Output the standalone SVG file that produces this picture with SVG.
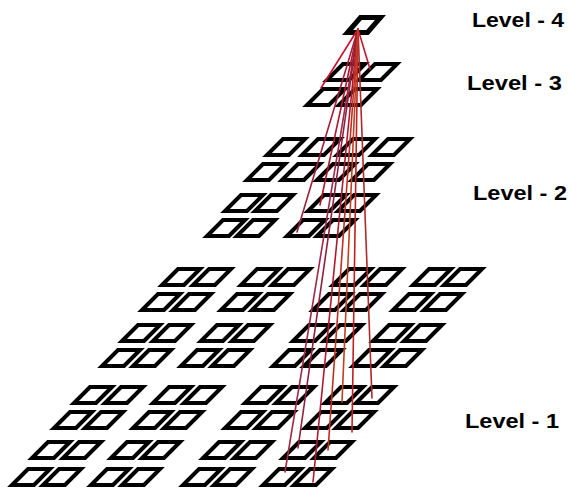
<svg xmlns="http://www.w3.org/2000/svg" xmlns:xlink="http://www.w3.org/1999/xlink" width="571" height="496" viewBox="0 0 571 496">
<style>
.cell{fill:none;stroke:#000;stroke-width:4;stroke-linejoin:miter}
.top{fill:none;stroke:#000;stroke-width:5;stroke-linejoin:miter}
.lbl{font-family:"Liberation Sans",Arial,sans-serif;font-weight:bold;font-size:21px;fill:#000}
.ln{fill:none;stroke-width:1.6;stroke-linecap:round}
</style>
<defs>
<path id="c1" class="cell" d="M0,0 h22 l16,-16 h-22 z"/>
</defs>
<rect width="571" height="496" fill="#fff"/>
<g id="level1">
<g id="n1_1_1"><use href="#c1" x="162" y="285"/></g><g id="n1_1_2"><use href="#c1" x="193" y="285"/></g><g id="n1_1_3"><use href="#c1" x="241" y="285"/></g><g id="n1_1_4"><use href="#c1" x="272" y="285"/></g><g id="n1_1_5"><use href="#c1" x="333" y="285"/></g><g id="n1_1_6"><use href="#c1" x="364" y="285"/></g><g id="n1_1_7"><use href="#c1" x="413" y="285"/></g><g id="n1_1_8"><use href="#c1" x="444" y="285"/></g>
<g id="n1_2_1"><use href="#c1" x="142" y="310"/></g><g id="n1_2_2"><use href="#c1" x="173" y="310"/></g><g id="n1_2_3"><use href="#c1" x="221" y="310"/></g><g id="n1_2_4"><use href="#c1" x="252" y="310"/></g><g id="n1_2_5"><use href="#c1" x="313" y="310"/></g><g id="n1_2_6"><use href="#c1" x="344" y="310"/></g><g id="n1_2_7"><use href="#c1" x="393" y="310"/></g><g id="n1_2_8"><use href="#c1" x="424" y="310"/></g>
<g id="n1_3_1"><use href="#c1" x="122" y="341"/></g><g id="n1_3_2"><use href="#c1" x="153" y="341"/></g><g id="n1_3_3"><use href="#c1" x="201" y="341"/></g><g id="n1_3_4"><use href="#c1" x="232" y="341"/></g><g id="n1_3_5"><use href="#c1" x="293" y="341"/></g><g id="n1_3_6"><use href="#c1" x="324" y="341"/></g><g id="n1_3_7"><use href="#c1" x="373" y="341"/></g><g id="n1_3_8"><use href="#c1" x="404" y="341"/></g>
<g id="n1_4_1"><use href="#c1" x="102" y="366"/></g><g id="n1_4_2"><use href="#c1" x="133" y="366"/></g><g id="n1_4_3"><use href="#c1" x="181" y="366"/></g><g id="n1_4_4"><use href="#c1" x="212" y="366"/></g><g id="n1_4_5"><use href="#c1" x="273" y="366"/></g><g id="n1_4_6"><use href="#c1" x="304" y="366"/></g><g id="n1_4_7"><use href="#c1" x="353" y="366"/></g><g id="n1_4_8"><use href="#c1" x="384" y="366"/></g>
<g id="n1_5_1"><use href="#c1" x="74" y="403"/></g><g id="n1_5_2"><use href="#c1" x="105" y="403"/></g><g id="n1_5_3"><use href="#c1" x="153" y="403"/></g><g id="n1_5_4"><use href="#c1" x="184" y="403"/></g><g id="n1_5_5"><use href="#c1" x="245" y="403"/></g><g id="n1_5_6"><use href="#c1" x="276" y="403"/></g><g id="n1_5_7"><use href="#c1" x="325" y="403"/></g><g id="n1_5_8"><use href="#c1" x="356" y="403"/></g>
<g id="n1_6_1"><use href="#c1" x="54" y="428"/></g><g id="n1_6_2"><use href="#c1" x="85" y="428"/></g><g id="n1_6_3"><use href="#c1" x="133" y="428"/></g><g id="n1_6_4"><use href="#c1" x="164" y="428"/></g><g id="n1_6_5"><use href="#c1" x="225" y="428"/></g><g id="n1_6_6"><use href="#c1" x="256" y="428"/></g><g id="n1_6_7"><use href="#c1" x="305" y="428"/></g><g id="n1_6_8"><use href="#c1" x="336" y="428"/></g>
<g id="n1_7_1"><use href="#c1" x="32" y="458"/></g><g id="n1_7_2"><use href="#c1" x="63" y="458"/></g><g id="n1_7_3"><use href="#c1" x="111" y="458"/></g><g id="n1_7_4"><use href="#c1" x="142" y="458"/></g><g id="n1_7_5"><use href="#c1" x="203" y="458"/></g><g id="n1_7_6"><use href="#c1" x="234" y="458"/></g><g id="n1_7_7"><use href="#c1" x="283" y="458"/></g><g id="n1_7_8"><use href="#c1" x="314" y="458"/></g>
<g id="n1_8_1"><use href="#c1" x="12" y="485"/></g><g id="n1_8_2"><use href="#c1" x="43" y="485"/></g><g id="n1_8_3"><use href="#c1" x="91" y="485"/></g><g id="n1_8_4"><use href="#c1" x="122" y="485"/></g><g id="n1_8_5"><use href="#c1" x="183" y="485"/></g><g id="n1_8_6"><use href="#c1" x="214" y="485"/></g><g id="n1_8_7"><use href="#c1" x="263" y="485"/></g><g id="n1_8_8"><use href="#c1" x="294" y="485"/></g>
</g>
<g id="level2">
<g id="n2_1_1"><use href="#c1" x="267" y="155"/></g><g id="n2_1_2"><use href="#c1" x="302" y="155"/></g><g id="n2_1_3"><use href="#c1" x="337" y="155"/></g><g id="n2_1_4"><use href="#c1" x="372" y="155"/></g>
<g id="n2_2_1"><use href="#c1" x="247" y="180"/></g><g id="n2_2_2"><use href="#c1" x="282" y="180"/></g><g id="n2_2_3"><use href="#c1" x="317" y="180"/></g><g id="n2_2_4"><use href="#c1" x="352" y="180"/></g>
<g id="n2_3_1"><use href="#c1" x="225" y="211"/></g><g id="n2_3_2"><use href="#c1" x="255" y="211"/></g><g id="n2_3_3"><use href="#c1" x="308" y="211"/></g><g id="n2_3_4"><use href="#c1" x="338" y="211"/></g>
<g id="n2_4_1"><use href="#c1" x="207" y="236"/></g><g id="n2_4_2"><use href="#c1" x="237" y="236"/></g><g id="n2_4_3"><use href="#c1" x="287" y="236"/></g><g id="n2_4_4"><use href="#c1" x="317" y="236"/></g>
</g>
<g id="level3">
<g id="n3_1_1"><use href="#c1" x="327" y="80"/></g><g id="n3_1_2"><use href="#c1" x="359" y="80"/></g>
<g id="n3_2_1"><use href="#c1" x="307" y="105"/></g><g id="n3_2_2"><use href="#c1" x="339" y="105"/></g>
</g>
<g id="level4">
<g id="n4"><path class="top" d="M347.5,32.5 h20 l13,-15 h-20 z"/></g>
</g>
<g id="connectors">
<path class="ln" stroke="#c8102e" d="M358,29 L321,88"/>
<path class="ln" stroke="#c01830" d="M358,29 L370,69"/>
<path class="ln" stroke="#a0203a" d="M358,29 L297,232"/>
<path class="ln" stroke="#b01828" d="M358,29 L320,205"/>
<path class="ln" stroke="#a02848" d="M358,29 L285,472"/>
<path class="ln" stroke="#b01830" d="M358,29 L313,482"/>
<path class="ln" stroke="#902040" d="M358,29 L298,448"/>
<path class="ln" stroke="#c03020" d="M358,29 L328,450"/>
<path class="ln" stroke="#c02020" d="M358,29 L352,432"/>
<path class="ln" stroke="#b02828" d="M358,29 L372,398"/>
<path class="ln" stroke="#c04020" d="M358,29 L342,402"/>
</g>
<g id="labels">
<text class="lbl" x="472" y="27" textLength="92" lengthAdjust="spacingAndGlyphs">Level - 4</text>
<text class="lbl" x="467" y="90" textLength="95" lengthAdjust="spacingAndGlyphs">Level - 3</text>
<text class="lbl" x="473" y="200" textLength="94" lengthAdjust="spacingAndGlyphs">Level - 2</text>
<text class="lbl" x="465" y="428" textLength="94" lengthAdjust="spacingAndGlyphs">Level - 1</text>
</g>
</svg>
